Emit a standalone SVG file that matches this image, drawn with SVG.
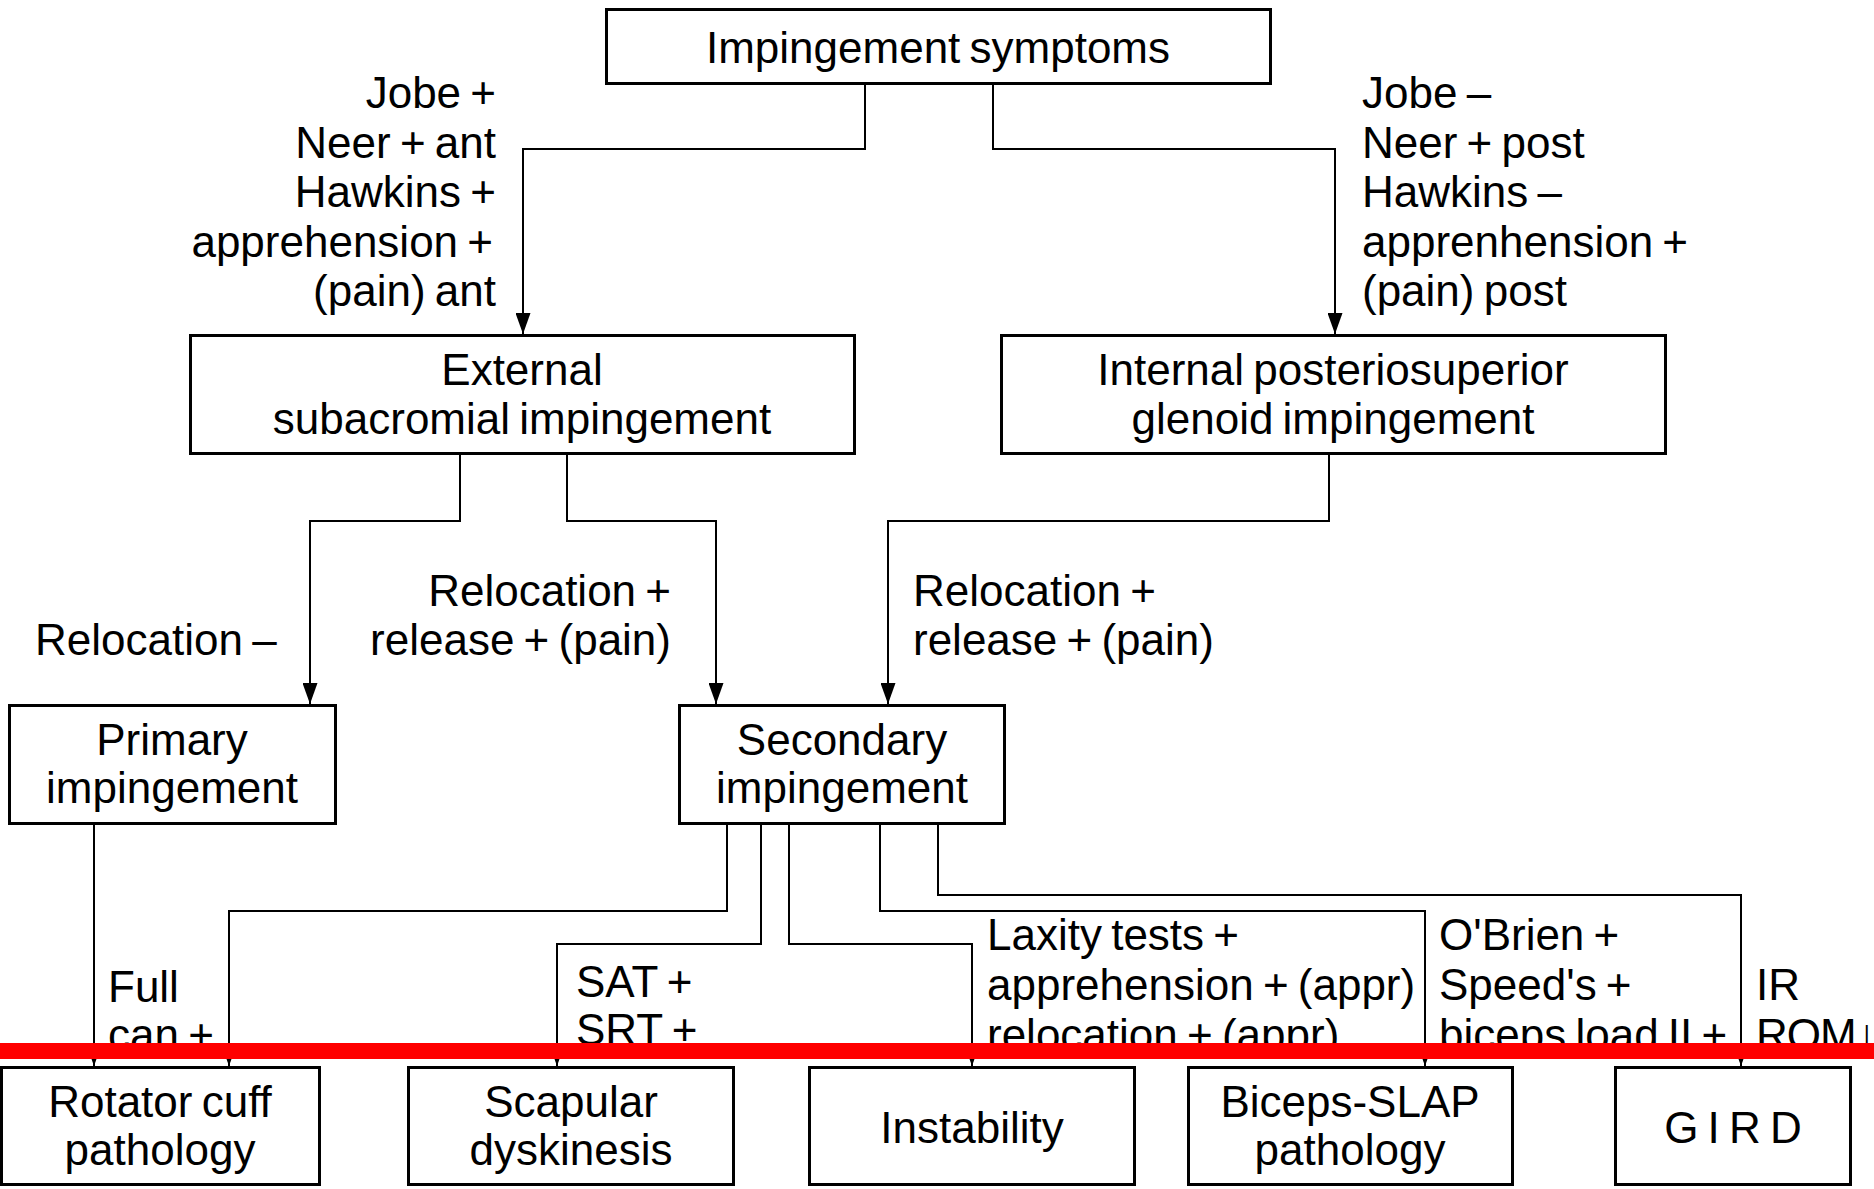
<svg xmlns="http://www.w3.org/2000/svg" width="1874" height="1189" viewBox="0 0 1874 1189">
<style>
.box{fill:#fff;stroke:#000;stroke-width:3}
.con{fill:none;stroke:#000;stroke-width:2}
text{font-family:"Liberation Sans",Arial,Helvetica,sans-serif;font-size:44px;word-spacing:-3px;fill:#000}
.c{text-anchor:middle}
.e{text-anchor:end}
</style>
<defs>
<marker id="arr" markerUnits="userSpaceOnUse" markerWidth="21" markerHeight="15" viewBox="0 0 21 15" refX="21" refY="7.5" orient="auto">
<path d="M0,0 L21,7.5 L0,15 z" fill="#000"/>
</marker>
</defs>
<rect x="0" y="0" width="1874" height="1189" fill="#fff"/>
<g id="connectors">
<path class="con" d="M865,84 V149 H523 V334" marker-end="url(#arr)"/>
<path class="con" d="M993,84 V149 H1335 V334" marker-end="url(#arr)"/>
<path class="con" d="M460,454 V521 H310 V704" marker-end="url(#arr)"/>
<path class="con" d="M567,454 V521 H716 V704" marker-end="url(#arr)"/>
<path class="con" d="M1329,454 V521 H888 V704" marker-end="url(#arr)"/>
<path class="con" d="M94,824 V1066" marker-end="url(#arr)"/>
<path class="con" d="M727,824 V911 H229 V1066" marker-end="url(#arr)"/>
<path class="con" d="M761,824 V944 H557 V1066" marker-end="url(#arr)"/>
<path class="con" d="M789,824 V944 H972 V1066" marker-end="url(#arr)"/>
<path class="con" d="M880,824 V911 H1425 V1066" marker-end="url(#arr)"/>
<path class="con" d="M938,824 V895 H1741 V1066" marker-end="url(#arr)"/>
</g>
<g id="labels">
<text class="e" x="496" y="108">Jobe +</text>
<text class="e" x="496" y="158">Neer + ant</text>
<text class="e" x="496" y="207">Hawkins +</text>
<text class="e" x="493" y="257">apprehension +</text>
<text class="e" x="496" y="306">(pain) ant</text>
<text x="1362" y="108">Jobe – </text>
<text x="1362" y="158">Neer + post</text>
<text x="1362" y="207">Hawkins – </text>
<text x="1362" y="257">apprenhension +</text>
<text x="1362" y="306">(pain) post</text>
<text x="35" y="655">Relocation – </text>
<text class="e" x="671" y="606">Relocation +</text>
<text class="e" x="671" y="655">release + (pain)</text>
<text x="913" y="606">Relocation +</text>
<text x="913" y="655">release + (pain)</text>
<text x="108" y="1002">Full</text>
<text x="108" y="1050">can +</text>
<text x="576" y="997">SAT +</text>
<text x="576" y="1045">SRT +</text>
<text x="987" y="950">Laxity tests +</text>
<text x="987" y="1000">apprehension + (appr)</text>
<text x="987" y="1050">relocation + (appr)</text>
<text x="1439" y="950">O'Brien +</text>
<text x="1439" y="1000">Speed's +</text>
<text x="1439" y="1050">biceps load II +</text>
<text x="1756" y="1000">IR</text>
<text x="1756" y="1050" letter-spacing="-1">ROM↓</text>
</g>
<g id="n-symptoms"><rect class="box" x="606.5" y="9.5" width="664" height="74"/><text class="c" x="938" y="63">Impingement symptoms</text></g>
<g id="n-external"><rect class="box" x="190.5" y="335.5" width="664" height="118"/><text class="c" x="522" y="385">External</text><text class="c" x="522" y="434">subacromial impingement</text></g>
<g id="n-internal"><rect class="box" x="1001.5" y="335.5" width="664" height="118"/><text class="c" x="1333" y="385">Internal posteriosuperior</text><text class="c" x="1333" y="434">glenoid impingement</text></g>
<g id="n-primary"><rect class="box" x="9.5" y="705.5" width="326" height="118"/><text class="c" x="172" y="755">Primary</text><text class="c" x="172" y="803">impingement</text></g>
<g id="n-secondary"><rect class="box" x="679.5" y="705.5" width="325" height="118"/><text class="c" x="842" y="755">Secondary</text><text class="c" x="842" y="803">impingement</text></g>
<g id="n-rotator"><rect class="box" x="1.5" y="1067.5" width="318" height="117"/><text class="c" x="160" y="1117">Rotator cuff</text><text class="c" x="160" y="1165">pathology</text></g>
<g id="n-scapular"><rect class="box" x="408.5" y="1067.5" width="325" height="117"/><text class="c" x="571" y="1117">Scapular</text><text class="c" x="571" y="1165">dyskinesis</text></g>
<g id="n-instability"><rect class="box" x="809.5" y="1067.5" width="325" height="117"/><text class="c" x="972" y="1143">Instability</text></g>
<g id="n-biceps"><rect class="box" x="1188.5" y="1067.5" width="324" height="117"/><text class="c" x="1350" y="1117">Biceps-SLAP</text><text class="c" x="1350" y="1165">pathology</text></g>
<g id="n-gird"><rect class="box" x="1615.5" y="1067.5" width="235" height="117"/><text class="c" x="1733" y="1143">G I R D</text></g>
<rect id="red-bar" x="0" y="1043" width="1874" height="16" fill="#ff0000"/>
</svg>
